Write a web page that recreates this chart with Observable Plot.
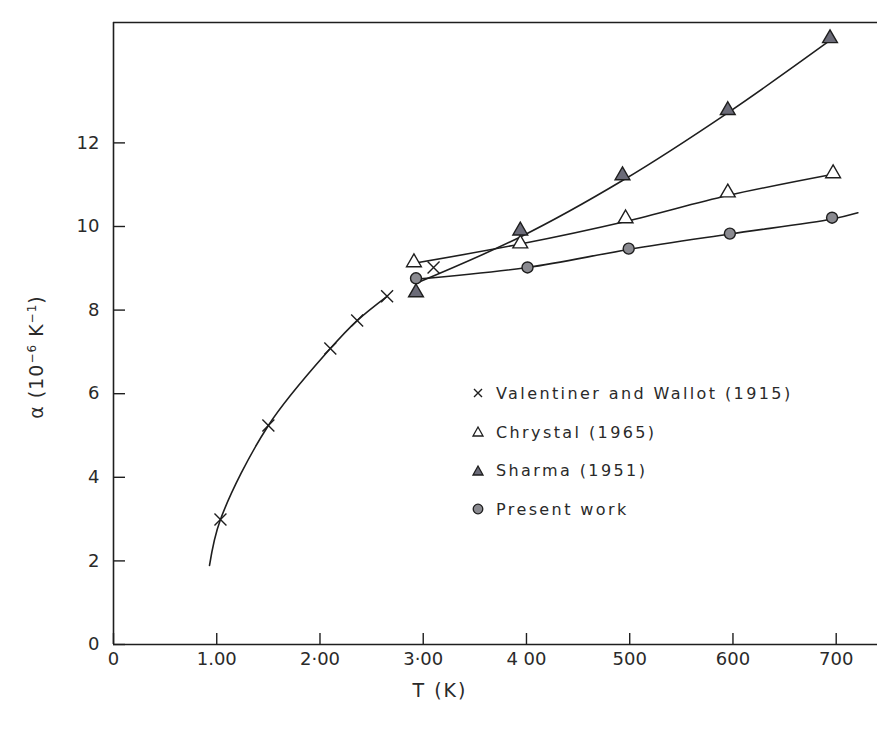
<!DOCTYPE html>
<html>
<head>
<meta charset="utf-8">
<script src="https://cdn.jsdelivr.net/npm/d3@7"></script>
<script src="https://cdn.jsdelivr.net/npm/@observablehq/plot@0.6"></script>
<style>
  html, body { margin: 0; padding: 0; background: #fff; }
  #wrap { position: relative; width: 877px; height: 729px; font-family: "DejaVu Sans", sans-serif; color: #2a2a2a; }
  #wrap svg { position: absolute; left: 0; top: 0; }
  .lbl { position: absolute; white-space: nowrap; }
  #ylab { left: 36px; top: 357px; transform: translate(-50%, -50%) rotate(-90deg); font-size: 19px; letter-spacing: 1px; }
  #xlab { left: 440px; top: 690px; transform: translate(-50%, -50%); font-size: 19px; letter-spacing: 2px; }
  #legend { position: absolute; left: 470px; top: 374px; font-size: 16px; letter-spacing: 2.4px; }
  #legend .row { display: flex; align-items: center; height: 38.7px; }
  #legend svg { position: static; margin-right: 10px; }
</style>
</head>
<body>
<div id="wrap">
  <div id="ylab" class="lbl">α (10<sup style="font-size:12px">−6</sup> K<sup style="font-size:12px">−1</sup>)</div>
  <div id="xlab" class="lbl">T (K)</div>
  <div id="legend"></div>
</div>
<script>
// ---- data ----
const valT = [103.6, 150, 210, 236, 265, 310];
const valA = [2.99, 5.24, 7.08, 7.75, 8.33, 9.02];
const valCurveT = [93, 103.6, 150, 210, 236, 265];
const valCurveA = [1.89, 2.99, 5.24, 7.08, 7.75, 8.33];

const chrT = [291, 394, 496, 595, 697];
const chrA = [9.14, 9.59, 10.19, 10.81, 11.27];
const chrCurveA = [9.12, 9.58, 10.12, 10.74, 11.25];

const shaT = [293, 394, 493, 595, 694];
const shaA = [8.42, 9.90, 11.22, 12.78, 14.50];
const shaCurveT = [293, 394, 493, 595, 694];
const shaCurveA = [8.64, 9.75, 11.10, 12.72, 14.45];

const preT = [293, 401, 499, 597, 696];
const preA = [8.76, 9.02, 9.47, 9.83, 10.21];
const preCurveT = [293, 401, 499, 597, 696, 721];
const preCurveA = [8.74, 9.02, 9.45, 9.82, 10.18, 10.33];

const xTicks = [0, 100, 200, 300, 400, 500, 600, 700];
const xTickLabels = ["0", "1.00", "2·00", "3·00", "4 00", "500", "600", "700"];
const yTicks = [0, 2, 4, 6, 8, 10, 12];
const xDomain = [0, 740];
const yDomain = [0, 14.88];

const legendNames = ["Valentiner and Wallot (1915)", "Chrystal (1965)", "Sharma (1951)", "Present work"];

const zip = (xs, ys) => xs.map((x, i) => ({x, y: ys[i]}));
const ink = "#1e1e1e";

const plot = Plot.plot({
  width: 877,
  height: 729,
  marginTop: 22,
  marginRight: 0,
  marginBottom: 85,
  marginLeft: 113,
  style: {fontFamily: "DejaVu Sans, sans-serif", fontSize: "18px", color: "#2a2a2a", background: "transparent"},
  x: {domain: xDomain},
  y: {domain: yDomain},
  marks: [
    // ticks (inward)
    Plot.axisX(xTicks, {tickSize: -11, text: null, label: null, stroke: ink, strokeWidth: 1.4}),
    Plot.axisY(yTicks, {tickSize: -12, text: null, label: null, stroke: ink, strokeWidth: 1.4}),
    // tick labels
    Plot.axisX(xTicks, {tickSize: 0, tickPadding: 8, label: null, tickFormat: (d) => xTickLabels[xTicks.indexOf(d)], fontSize: 18, letterSpacing: 1, fill: "#2a2a2a"}),
    Plot.axisY(yTicks, {tickSize: 0, tickPadding: 14, label: null, fontSize: 18, letterSpacing: 1, fill: "#2a2a2a"}),
    // frame lines
    Plot.ruleX([xDomain[0]], {stroke: ink, strokeWidth: 1.6}),
    Plot.ruleY([yDomain[0]], {stroke: ink, strokeWidth: 1.6}),
    Plot.ruleY([yDomain[1]], {stroke: ink, strokeWidth: 1.6}),
    // curves
    Plot.line(zip(valCurveT, valCurveA), {x: "x", y: "y", curve: "catmull-rom", stroke: ink, strokeWidth: 1.6}),
    Plot.line(zip(chrT, chrCurveA), {x: "x", y: "y", curve: "catmull-rom", stroke: ink, strokeWidth: 1.6}),
    Plot.line(zip(shaCurveT, shaCurveA), {x: "x", y: "y", curve: "catmull-rom", stroke: ink, strokeWidth: 1.6}),
    Plot.line(zip(preCurveT, preCurveA), {x: "x", y: "y", curve: "catmull-rom", stroke: ink, strokeWidth: 1.6}),
    // points
    Plot.dot(zip(valT, valA), {x: "x", y: "y", symbol: "times", r: 5.5, stroke: ink, strokeWidth: 1.4}),
    Plot.dot(zip(chrT, chrA), {x: "x", y: "y", symbol: "triangle", r: 5.5, stroke: ink, fill: "white", strokeWidth: 1.4}),
    Plot.dot(zip(shaT, shaA), {x: "x", y: "y", symbol: "triangle", r: 5.5, stroke: ink, fill: "#6b6b78", strokeWidth: 1.4}),
    Plot.dot(zip(preT, preA), {x: "x", y: "y", symbol: "circle", r: 5.5, stroke: ink, fill: "#8a8a90", strokeWidth: 1.4})
  ]
});
document.getElementById("wrap").prepend(plot);

// legend
const symbols = [
  `<path d="M-4,-4L4,4M-4,4L4,-4" stroke="${ink}" stroke-width="1.4" fill="none"/>`,
  `<path d="M0,-5L5,4L-5,4Z" stroke="${ink}" stroke-width="1.3" fill="white"/>`,
  `<path d="M0,-5L5,4L-5,4Z" stroke="${ink}" stroke-width="1.3" fill="#6b6b78"/>`,
  `<circle r="4.8" stroke="${ink}" stroke-width="1.3" fill="#8a8a90"/>`
];
const leg = document.getElementById("legend");
legendNames.forEach((name, i) => {
  const row = document.createElement("div");
  row.className = "row";
  row.innerHTML = `<svg width="16" height="16" viewBox="-8 -8 16 16">${symbols[i]}</svg><span>${name}</span>`;
  leg.appendChild(row);
});
</script>
</body>
</html>
